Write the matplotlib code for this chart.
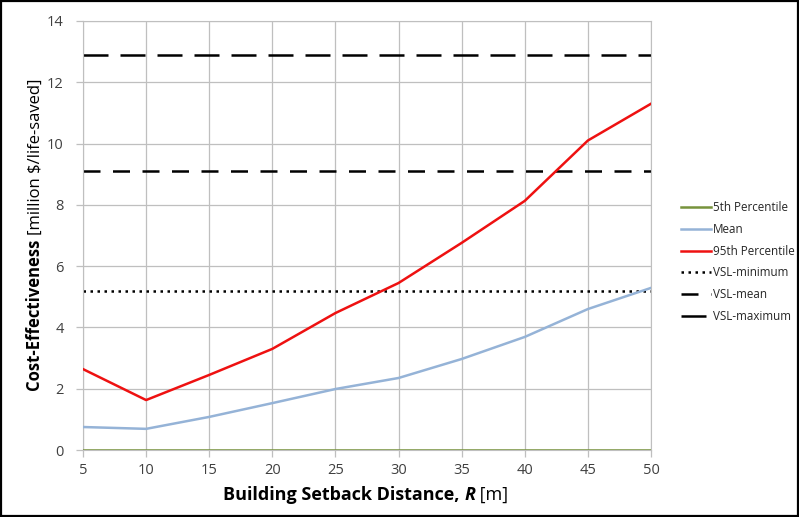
import matplotlib
matplotlib.use("Agg")
import matplotlib.pyplot as plt
from matplotlib.patches import Rectangle

plt.rcParams["font.family"] = ["Open Sans", "DejaVu Sans"]

# setback distance R [m]
distance = [5, 10, 15, 20, 25, 30, 35, 40, 45, 50]
# cost-effectiveness [million $/life-saved]
p5 = [0, 0, 0, 0, 0, 0, 0, 0, 0, 0]
mean = [0.75, 0.69, 1.08, 1.53, 1.99, 2.35, 2.97, 3.69, 4.60, 5.29]
p95 = [2.64, 1.63, 2.45, 3.30, 4.47, 5.45, 6.76, 8.13, 10.10, 11.30]
vsl_min = 5.2
vsl_mean = 9.1
vsl_max = 12.9

fig = plt.figure(figsize=(7.99, 5.17), dpi=100)
ax = fig.add_axes([83 / 799, 1 - 450 / 517, (651 - 83) / 799, (450 - 21) / 517])

grid_c = "#bfbfbf"
ax.plot(distance, p5, color="#77933c", lw=1.8, label="5th Percentile", zorder=4)
ax.plot(distance, mean, color="#95b3d7", lw=1.8, label="Mean", zorder=4)
ax.plot(distance, p95, color="#ee1111", lw=1.8, label="95th Percentile", zorder=4)
ax.plot([distance[0], distance[-1]], [vsl_min] * 2, color="black", lw=1.8,
        linestyle=(0, (1, 1.8)), label="VSL-minimum")
ax.plot([distance[0], distance[-1]], [vsl_mean] * 2, color="black", lw=1.8,
        linestyle=(0, (6.8, 5.0)), label="VSL-mean")
ax.plot([distance[0], distance[-1]], [vsl_max] * 2, color="black", lw=1.8,
        linestyle=(0, (10, 4.8)), label="VSL-maximum")

ax.set_xlim(5, 50)
ax.set_ylim(0, 14)
ax.set_xticks(distance)
ax.set_yticks(range(0, 15, 2))
ax.grid(True, color=grid_c, lw=0.9)
ax.set_axisbelow(True)
for s in ax.spines.values():
    s.set_color(grid_c)
ax.tick_params(colors=grid_c, labelcolor="#404040", labelsize=10.5, length=5, width=0.9)
ax.tick_params(axis="x", pad=4)
ax.tick_params(axis="y", pad=9)

leg = fig.legend(loc="center left", bbox_to_anchor=(676 / 799, 1 - 262 / 517),
                 frameon=False, fontsize=8.4, handlelength=2.6, handletextpad=0.15,
                 labelspacing=0.74, borderaxespad=0)
for t in leg.get_texts():
    t.set_color("#262626")

# mixed-style axis labels
W, H = 799, 517
fig.canvas.draw()
r = fig.canvas.get_renderer()

xparts = [("Building Setback Distance, ", "bold", "normal"),
          ("R", "bold", "italic"),
          (" [m]", "normal", "normal")]
xt = [fig.text(0, 0, s, fontsize=13, weight=w, style=st, va="baseline")
      for s, w, st in xparts]
widths = [t.get_window_extent(r).width for t in xt]
x0 = 366 - sum(widths) / 2
for t, w in zip(xt, widths):
    t.set_position((x0 / W, 1 - 500 / H))
    x0 += w

yparts = [("Cost-Effectiveness ", "bold"), ("[million $/life-saved]", "normal")]
yt = [fig.text(0, 0, s, fontsize=12, weight=w, rotation=90, va="baseline",
               ha="left", rotation_mode="anchor") for s, w in yparts]
heights = [t.get_window_extent(r).height for t in yt]
y0 = 235 + sum(heights) / 2
for t, h in zip(yt, heights):
    t.set_position((40 / W, 1 - y0 / H))
    y0 -= h

fig.patches.append(Rectangle((0.0015, 0.002), 0.997, 0.996, transform=fig.transFigure,
                             fill=False, edgecolor="black", lw=1.6))

fig.savefig("out.png", dpi=100)
